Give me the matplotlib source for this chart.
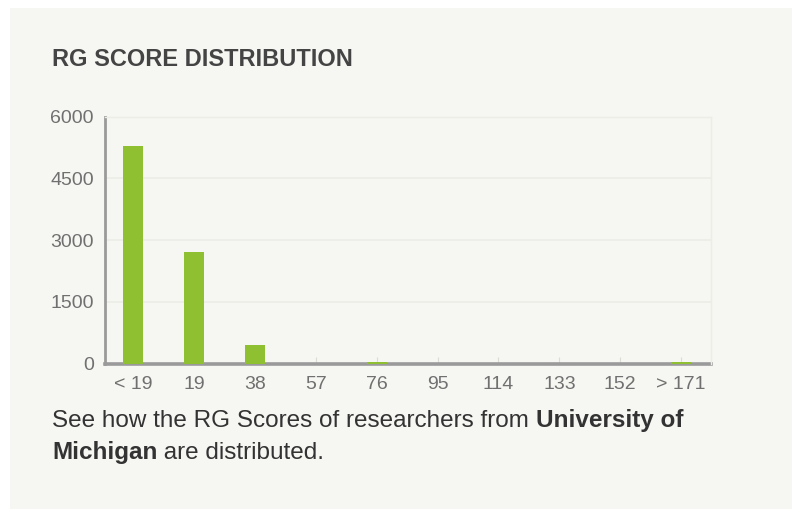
import matplotlib.pyplot as plt
from matplotlib.patches import Rectangle

plt.rcParams['font.family'] = ['Liberation Sans', 'DejaVu Sans']

# score buckets and number of researchers in each
buckets = ['< 19', '19', '38', '57', '76', '95', '114', '133', '152', '> 171']
counts = [5280, 2700, 460, 0, 40, 0, 0, 0, 0, 40]
yticks = [0, 1500, 3000, 4500, 6000]

bg = '#f6f6f2'
green = '#8fc031'
axis_grey = '#9a9a9a'
text_grey = '#707070'

fig = plt.figure(figsize=(7.92, 5.09), dpi=100)
fig.patch.set_facecolor('white')
# widget panel
fig.patches.append(Rectangle((10 / 792, 0), 1, 1 - 8 / 509, transform=fig.transFigure,
                             facecolor=bg, edgecolor='none', zorder=-5))

ax = fig.add_axes([105 / 792, 1 - 363.5 / 509, (711 - 105) / 792, (363.5 - 116.7) / 509])
ax.set_facecolor(bg)

x = list(range(len(buckets)))
ax.bar(x, counts, width=0.33, color=green, zorder=3)

ax.set_xlim(-0.46, 9.49)
ax.set_ylim(0, 6000)
ax.set_yticks(yticks)
ax.set_yticklabels([str(v) for v in yticks])
ax.set_xticks(x)
ax.set_xticklabels(buckets)

ax.grid(axis='y', color='#ededE7', linewidth=1.2, zorder=0)
ax.tick_params(axis='x', length=5, width=0.8, color='#dcdcd4', direction='in',
               pad=9, labelsize=14, labelcolor=text_grey)
ax.tick_params(axis='y', length=0, pad=8, labelsize=14, labelcolor=text_grey)

for s in ['top', 'right']:
    ax.spines[s].set_color('#ededE7')
    ax.spines[s].set_linewidth(1)
ax.spines['left'].set_color(axis_grey)
ax.spines['left'].set_linewidth(2)
ax.spines['bottom'].set_color(axis_grey)
ax.spines['bottom'].set_linewidth(2.6)
ax.spines['bottom'].set_zorder(2)

fig.text(52 / 792, 1 - 60 / 509, 'RG SCORE DISTRIBUTION', fontsize=17,
         fontweight='bold', color='#444444', va='center', ha='left')

# caption with bold university name
renderer = fig.canvas.get_renderer()
lines = [[('See how the RG Scores of researchers from ', 'normal'), ('University of', 'bold')],
         [('Michigan', 'bold'), (' are distributed.', 'normal')]]
line_y = [1 - 421 / 509, 1 - 453 / 509]
for parts, y in zip(lines, line_y):
    xpos = 52 / 792
    for txt, weight in parts:
        t = fig.text(xpos, y, txt, fontsize=17.5, fontweight=weight, color='#333333',
                     va='center', ha='left')
        bb = t.get_window_extent(renderer=renderer)
        xpos += bb.width / fig.bbox.width

fig.savefig('out.png', dpi=100)
